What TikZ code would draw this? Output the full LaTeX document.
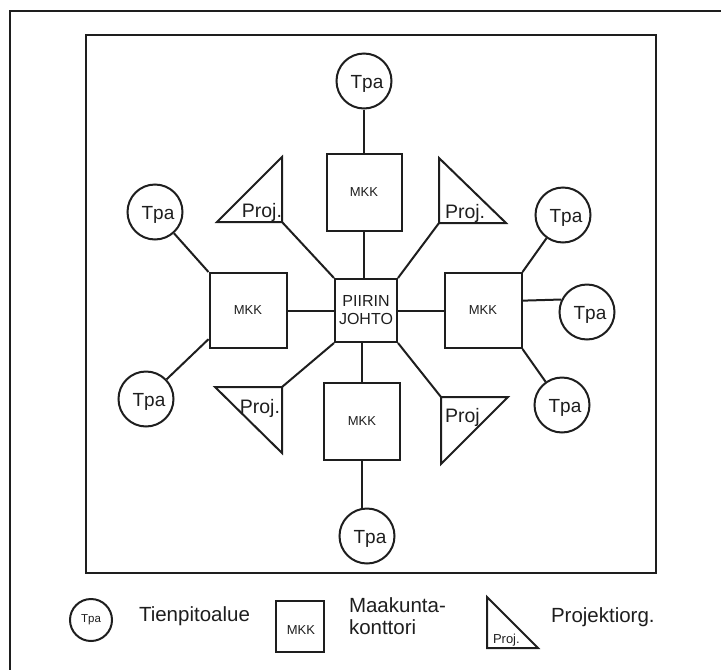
\documentclass[tikz,border=0pt]{standalone}
\usepackage{fontspec}
\setmainfont{Liberation Sans}
\definecolor{ink}{RGB}{30,30,30}
\begin{document}
\begin{tikzpicture}[x=1pt,y=-1pt, line width=2pt, color=ink,
  every node/.style={inner sep=0pt},
  mkk/.style={draw, rectangle, minimum width=75pt, minimum height=77pt, font=\fontsize{13}{15}\selectfont},
  tpa/.style={draw, circle, minimum size=55pt, label={[font=\fontsize{19}{22}\selectfont, xshift=3pt, yshift=-3pt]center:Tpa}},
  tri/.style={draw, line join=miter},
  projtxt/.style={font=\fontsize{19.5}{22}\selectfont},
  legtxt/.style={font=\fontsize{20.5}{22}\selectfont},
  frame/.style={line width=1.6pt}
]
\useasboundingbox (0,0) rectangle (721,670);
\begin{scope}
  \clip (0,0) rectangle (721,670);
  \draw[frame] (10,11) rectangle (760,720);
\end{scope}
\draw[frame] (86,35) rectangle (656,573);

% centre and offices
\node[draw, minimum width=62pt, minimum height=63pt, align=center, font=\fontsize{16}{18}\selectfont] (pj) at (366,310.5) {PIIRIN\\JOHTO};
\node[mkk] (mT) at (364,192) {MKK};
\node[mkk, minimum width=76pt] (mB) at (362,421.5) {MKK};
\node[mkk, minimum width=77pt, minimum height=75pt] (mL) at (248,310.5) {MKK};
\node[mkk, minimum width=77pt, minimum height=75pt] (mR) at (483,310.5) {MKK};

% Tpa circles
\node[tpa] (tT) at (364,81) {};
\node[tpa] (tB) at (367,536) {};
\node[tpa] (tLU) at (155,212) {};
\node[tpa] (tLL) at (146,399) {};
\node[tpa] (tRU) at (563,215) {};
\node[tpa] (tRM) at (587,312) {};
\node[tpa] (tRL) at (562,405) {};

% project triangles
\coordinate (pUL) at (282,222);
\coordinate (pUR) at (439,223);
\coordinate (pLL) at (282,387);
\coordinate (pLR) at (441,397);
\draw[tri] (217,222) -- (pUL) -- (282,157) -- cycle;
\draw[tri] (439,158) -- (pUR) -- (506,223) -- cycle;
\draw[tri] (215,387) -- (pLL) -- (282,453) -- cycle;
\draw[tri] (pLR) -- (508,397) -- (441,464) -- cycle;
\node[projtxt, anchor=base east] (jUL) at (283,217) {Proj.};
\node[projtxt, anchor=base west] (jUR) at (444,218) {Proj.};
\node[projtxt, anchor=base east] (jLL) at (281,413) {Proj.};
\node[projtxt, anchor=base west] (jLR) at (444,422) {Proj};

% connectors
\draw (tT) -- (mT);
\draw (mT.south) -- (mT.south |- pj.north);
\draw (mB.north) -- (mB.north |- pj.south);
\draw (mB.south) -- (mB.south |- tB.north);
\draw (mL) -- (pj);
\draw (pj) -- (mR);
\draw (mL.north west) -- (tLU);
\draw (mL.216) -- (tLL);
\draw (mR.north east) -- (tRU);
\draw (mR.14.6) -- (tRM.154.6);
\draw (mR.south east) -- (tRL);
\draw (pUL) -- (pj.north west);
\draw (pUR) -- (pj.north east);
\draw (pj.south west) -- (pLL);
\draw (pj.south east) -- (pLR);

% legend
\node[draw, circle, minimum size=42pt, font=\fontsize{11.5}{13}\selectfont] (lt) at (91,620) {Tpa};
\node[legtxt, anchor=base west] (ltx) at (138,621) {Tienpitoalue};
\node[draw, minimum width=48pt, minimum height=51pt, label={[font=\fontsize{13}{15}\selectfont, xshift=1pt, yshift=-4pt]center:MKK}] (lm) at (300,626.5) {};
\node[legtxt, anchor=west, align=left] (lmx) at (348,616.5) {Maakunta-\\konttori};
\draw[tri] (487,597) -- (487,648) -- (538,648) -- cycle;
\node[font=\fontsize{13}{15}\selectfont, anchor=base west] (lpt) at (492,643) {Proj.};
\node[legtxt, anchor=base west] (lpx) at (550,622) {Projektiorg.};
\end{tikzpicture}
\end{document}
